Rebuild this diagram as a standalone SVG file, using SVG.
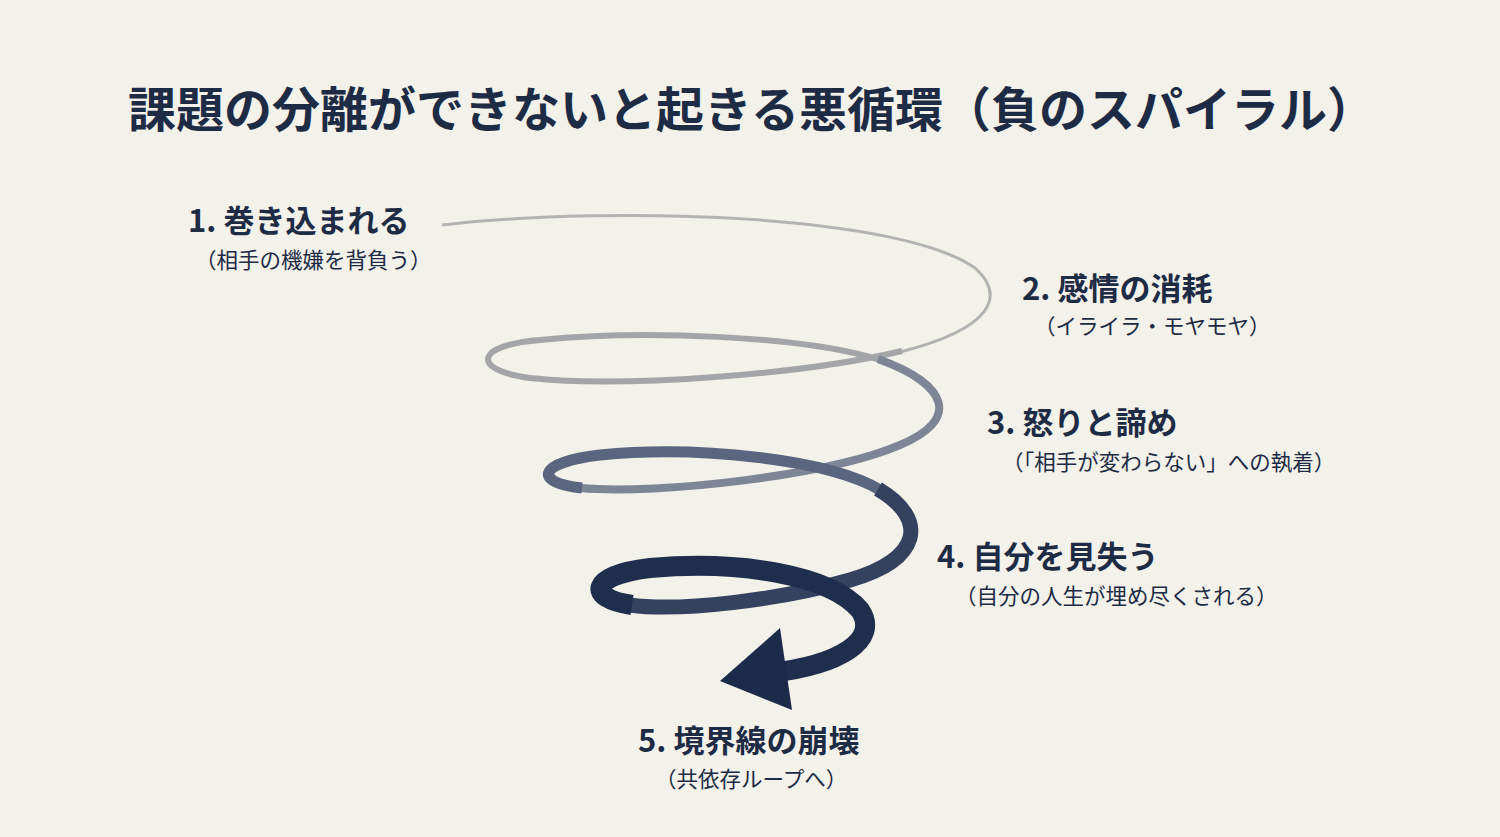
<svg xmlns="http://www.w3.org/2000/svg" width="1500" height="837" viewBox="0 0 1500 837">
<style>
.t{font-family:"Noto Sans CJK JP","Noto Sans",sans-serif;fill:#1e2b45}
.h{font-size:31px;font-weight:700}
.s{font-size:21.5px;font-weight:400}
.sp{fill:none;stroke-linecap:butt}
</style>
<rect width="1500" height="837" fill="#f2f1ea"/>
<text class="t" x="128" y="127" font-size="48" font-weight="700">課題の分離ができないと起きる悪循環（負のスパイラル）</text>
<g id="connectors">
<path class="sp" stroke="#b3b3b3" stroke-width="3" d="M442,225 C620,205 900,215 975,268 C1005,295 995,328 900,352"/>
<path class="sp" stroke="#a4a5a8" stroke-width="6" d="M902,351 C800,375 620,388 530,378 C470,370 475,345 540,340 C640,330 800,335 880,360"/>
<path class="sp" stroke="#7e8596" stroke-width="8" d="M878,359 C950,385 960,420 900,445 C830,475 660,495 580,488"/>
<path class="sp" stroke="#5a6580" stroke-width="11" d="M582,488 C530,482 540,462 600,455 C700,445 830,460 880,490"/>
<path class="sp" stroke="#34425f" stroke-width="15" d="M878,489 C930,520 920,560 850,580 C780,600 680,612 630,605"/>
<path class="sp" stroke="#1f2e4d" stroke-width="20" d="M632,605 C585,598 590,575 650,568 C740,560 830,575 860,610 C880,640 840,665 770,673"/>
<polygon fill="#1c2b4a" points="720,681 780,628 792,710"/>
</g>
<g id="n1"><text class="t h" x="188" y="232">1. 巻き込まれる</text><text class="t s" x="195" y="268">（相手の機嫌を背負う）</text></g>
<g id="n2"><text class="t h" x="1022" y="300">2. 感情の消耗</text><text class="t s" x="1034" y="334">（イライラ・モヤモヤ）</text></g>
<g id="n3"><text class="t h" x="987" y="434">3. 怒りと諦め</text><text class="t s" x="1002" y="470">（「相手が変わらない」への執着）</text></g>
<g id="n4"><text class="t h" x="937" y="568">4. 自分を見失う</text><text class="t s" x="955" y="604">（自分の人生が埋め尽くされる）</text></g>
<g id="n5"><text class="t h" x="638" y="752">5. 境界線の崩壊</text><text class="t s" x="655" y="787">（共依存ループへ）</text></g>
</svg>
